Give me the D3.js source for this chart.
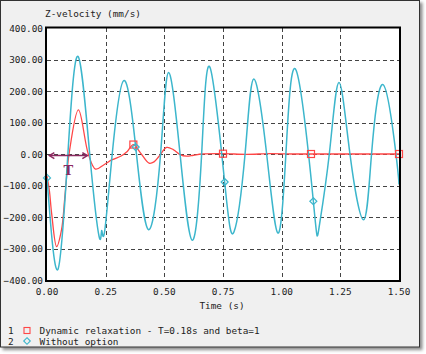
<!DOCTYPE html>
<html><head><meta charset="utf-8">
<script src="https://cdn.jsdelivr.net/npm/d3@7"></script>
<style>
html,body{margin:0;padding:0;background:#fff;}
svg{display:block;}
text{font-family:"DejaVu Sans Mono",monospace;font-size:9.4px;fill:#222;}
</style></head>
<body>
<script>
// ---- data ----
const yTicks = [400, 300, 200, 100, 0, -100, -200, -300, -400];
const xTicks = [0, 0.25, 0.5, 0.75, 1.0, 1.25, 1.5];
const seriesNames = ["Dynamic relaxation - T=0.18s and beta=1", "Without option"];

const redT = [0, 0.01, 0.02, 0.041, 0.062, 0.077, 0.094, 0.134, 0.176, 0.207, 0.243, 0.278, 0.314, 0.342, 0.368, 0.399, 0.435, 0.456, 0.477, 0.51, 0.538, 0.567, 0.595, 0.624, 0.66, 0.75, 0.85, 0.95, 1.05, 1.125, 1.25, 1.375, 1.5];
const redV = [-70, -115, -190, -294, -240, -129, 0, 140, 0, -48, -34, -18, -7, 8, 30, 3, -29, -25, -8, 21, 14, -2, -7, -4, 0, 1, -1, 1, 0, 0, 0, 0, 0];
const redMarkT = [0.368, 0.75, 1.125, 1.5];
const redMarkV = [30, 1, 0, 0];

const cyanT = [0, 0.046, 0.089, 0.132, 0.182, 0.222, 0.233, 0.245, 0.278, 0.327, 0.378, 0.432, 0.484, 0.518, 0.567, 0.619, 0.659, 0.694, 0.757, 0.797, 0.844, 0.881, 0.936, 0.984, 1.018, 1.062, 1.135, 1.159, 1.203, 1.244, 1.291, 1.349, 1.383, 1.432, 1.487, 1.5];
const cyanV = [-76, -367, 0, 310, 0, -262, -243, -249, 0, 233, 22, -240, 0, 259, 0, -274, 0, 276, -89, -247, 0, 238, 0, -251, 0, 265, -150, -235, 0, 227, 0, -209, 0, 220, 0, -97];
const cyanMarkT = [0, 0.378, 0.757, 1.135];
const cyanMarkV = [-76, 22, -89, -150];

const redColor = "#ff4646", cyanColor = "#3cb6cc", arrowColor = "#8c2a60";

// ---- layout ----
const W = 426, H = 354;
const svg = d3.select("body").append("svg").attr("width", W).attr("height", H);
const defs = svg.append("defs");
const f = defs.append("filter").attr("id", "sh").attr("x", "-5%").attr("y", "-5%").attr("width", "115%").attr("height", "115%");
f.append("feDropShadow").attr("dx", 2.5).attr("dy", 2.5).attr("stdDeviation", 1.5).attr("flood-color", "#000").attr("flood-opacity", 0.45);

svg.append("rect").attr("x", 0.5).attr("y", 0.5).attr("width", 419).attr("height", 346.5)
  .attr("fill", "#f0f0f0").attr("stroke", "#333").attr("stroke-width", 1).attr("filter", "url(#sh)");

const x = d3.scaleLinear().domain([0, 1.5]).range([47, 399]);
const y = d3.scaleLinear().domain([-400, 400]).range([280, 28]);

// plot bg
svg.append("rect").attr("x", x(0)).attr("y", y(400)).attr("width", x(1.5) - x(0)).attr("height", y(-400) - y(400)).attr("fill", "#fff");

defs.append("clipPath").attr("id", "clip").append("rect")
  .attr("x", x(0)).attr("y", y(400)).attr("width", x(1.5) - x(0)).attr("height", y(-400) - y(400));

// grid
const grid = svg.append("g");
grid.selectAll("line.gx").data(xTicks.slice(1, -1)).enter().append("line")
  .attr("x1", d => Math.round(x(d)) + 0.5).attr("x2", d => Math.round(x(d)) + 0.5)
  .attr("y1", y(400)).attr("y2", y(-400))
  .attr("stroke", "#444").attr("stroke-dasharray", "4,3");
grid.selectAll("line.gy").data(yTicks.slice(1, -1)).enter().append("line")
  .attr("y1", d => Math.round(y(d)) + 0.5).attr("y2", d => Math.round(y(d)) + 0.5)
  .attr("x1", x(0)).attr("x2", x(1.5))
  .attr("stroke", "#444").attr("stroke-dasharray", "4,3");

// series
const plot = svg.append("g").attr("clip-path", "url(#clip)");
const redData = redT.map((t, i) => [t, redV[i]]);
const cyanData = cyanT.map((t, i) => [t, cyanV[i]]);
const lineR = d3.line().x(d => x(d[0])).y(d => y(d[1])).curve(d3.curveCatmullRom.alpha(0.5));
const lineC = d3.line().x(d => x(d[0])).y(d => y(d[1])).curve(d3.curveNatural);
plot.append("path").attr("d", lineR(redData)).attr("fill", "none").attr("stroke", redColor).attr("stroke-width", 1.3);
plot.append("path").attr("d", lineC(cyanData)).attr("fill", "none").attr("stroke", cyanColor).attr("stroke-width", 1.5);

// markers
const ms = 7;
svg.selectAll("rect.rm").data(redMarkT.map((t, i) => [t, redMarkV[i]])).enter().append("rect")
  .attr("x", d => x(d[0]) - ms / 2).attr("y", d => y(d[1]) - ms / 2).attr("width", ms).attr("height", ms)
  .attr("fill", "none").attr("stroke", redColor).attr("stroke-width", 1.2);
const diamond = (cx, cy, r) => `M${cx},${cy - r}L${cx + r},${cy}L${cx},${cy + r}L${cx - r},${cy}Z`;
svg.selectAll("path.cm").data(cyanMarkT.map((t, i) => [t, cyanMarkV[i]])).enter().append("path")
  .attr("d", d => diamond(x(d[0]), y(d[1]), 3.5))
  .attr("fill", "none").attr("stroke", cyanColor).attr("stroke-width", 1.2);

// T arrow annotation
const aT0 = 0.01, aT1 = 0.172, aV = -5;
const ag = svg.append("g").attr("stroke", arrowColor).attr("stroke-width", 1.5).attr("fill", "none");
ag.append("line").attr("x1", x(aT0)).attr("x2", x(aT1)).attr("y1", y(aV)).attr("y2", y(aV));
ag.append("path").attr("d", `M${x(aT0) + 5},${y(aV) - 3}L${x(aT0)},${y(aV)}L${x(aT0) + 5},${y(aV) + 3}`);
ag.append("path").attr("d", `M${x(aT1) - 5},${y(aV) - 3}L${x(aT1)},${y(aV)}L${x(aT1) - 5},${y(aV) + 3}`);
svg.append("text").attr("x", x((aT0 + aT1) / 2)).attr("y", y(aV) + 19).attr("text-anchor", "middle")
  .style("font-family", "'DejaVu Serif',serif").style("font-size", "13px").style("font-weight", "bold").style("fill", arrowColor).text("T");

// frame
svg.append("rect").attr("x", x(0) - 1).attr("y", y(400) - 0.5).attr("width", x(1.5) - x(0) + 2).attr("height", y(-400) - y(400) + 1.5)
  .attr("fill", "none").attr("stroke", "#000").attr("stroke-width", 2);

// axes labels
const fmt = d3.format(".2f");
svg.selectAll("text.yt").data(yTicks).enter().append("text")
  .attr("x", 43).attr("y", d => y(d) + 3.5).attr("text-anchor", "end").text(d => fmt(d));
svg.selectAll("text.xt").data(xTicks).enter().append("text")
  .attr("x", d => x(d)).attr("y", 295).attr("text-anchor", "middle").text(d => fmt(d));
svg.append("text").attr("x", 45).attr("y", 17).text("Z-velocity (mm/s)");
svg.append("text").attr("x", 222).attr("y", 309).attr("text-anchor", "middle").text("Time (s)");

// legend
const lg = svg.append("g");
seriesNames.forEach((n, i) => {
  const ly = 330.5 + i * 10.5;
  lg.append("text").attr("x", 8).attr("y", ly + 3.5).text(String(i + 1));
  if (i === 0) lg.append("rect").attr("x", 24).attr("y", ly - 3).attr("width", 6).attr("height", 6).attr("fill", "none").attr("stroke", redColor).attr("stroke-width", 1.1);
  else lg.append("path").attr("d", diamond(27, ly, 3.3)).attr("fill", "none").attr("stroke", cyanColor).attr("stroke-width", 1.1);
  lg.append("text").attr("x", 39.5).attr("y", ly + 3.5).text(n);
});
</script>
</body></html>
